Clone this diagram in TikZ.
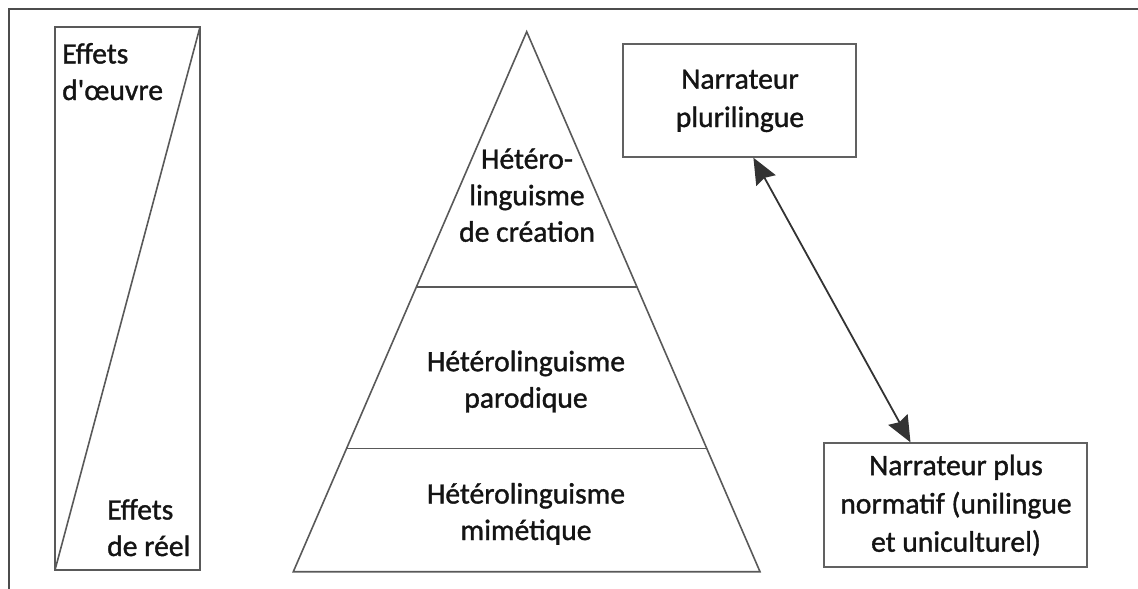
\documentclass[tikz,border=0pt]{standalone}
\usepackage{fontspec}
\setmainfont{Carlito}[FakeBold=1.2]
\usetikzlibrary{arrows.meta,calc}
\begin{document}
\begin{tikzpicture}[x=1pt,y=-1pt,
  frameline/.style={draw=black!70,line width=1.6pt},
  shape line/.style={draw=black!65,line width=1.6pt},
  txt/.style={font=\fontsize{29.6}{36.5}\selectfont,text=black!92,inner sep=0pt},
  boxtxt/.style={font=\fontsize{29.6}{38.3}\selectfont,text=black!92,inner sep=0pt,align=center,anchor=base},
  boxnode/.style={draw=black!62,line width=2pt,inner sep=0pt},
  arr/.style={draw=black!80,line width=1.8pt,{Stealth[length=26pt,width=22pt,inset=3pt]}-{Stealth[length=26pt,width=22pt,inset=3pt]}}]
\useasboundingbox (0,0) rectangle (1138,589);
% outer frame (top and left)
\draw[frameline] (9,589) -- (9,9) -- (1138,9);
% left rectangle with diagonal
\draw[shape line] (55,27) rectangle (200,570);
\draw[shape line] (55,570) -- (200,27);
\node[txt,align=left,anchor=base west] (oeuvre) at (62,100) {Effets\\d\XeTeXglyph\XeTeXcharglyph"27 œuvre};
\node[txt,align=left,anchor=base west] (reel) at (107,556) {Effets\\de réel};
% pyramid
\coordinate (apex) at (526.7,31.7);
\coordinate (bl) at (293.3,571.7);
\coordinate (br) at (760,571.7);
\draw[shape line,line join=miter] (apex) -- (bl) -- (br) -- cycle;
\draw[shape line] (416.7,286.7) -- (636.7,286.7);
\draw[shape line] (346.7,448.3) -- (706.7,448.3);
\node[txt,align=center,anchor=base] (creation) at (527,241.7) {Hétéro-\\linguisme\\de création};
\node[txt,align=center,anchor=base] (parodique) at (526,407.7) {Hétérolinguisme\\parodique};
\node[txt,align=center,anchor=base] (mimetique) at (526,540) {Hétérolinguisme\\mimétique};
% narrator boxes
\node[boxnode,minimum width=232.7pt,minimum height=112.4pt] (pluri) at (739.7,100.5) {};
\node[boxtxt] (pluritxt) at (740,127) {Narrateur\\plurilingue};
\node[boxnode,minimum width=263.3pt,minimum height=123.3pt] (norm) at (955.5,505) {};
\node[boxtxt] (normtxt) at (956,551.7) {Narrateur plus\\normatif (unilingue\\et uniculturel)};
% double arrow
\draw[arr] ($(pluri.south)+(13.7,0)$) -- ($(norm.north)+(-45,0)$);
\end{tikzpicture}
\end{document}
